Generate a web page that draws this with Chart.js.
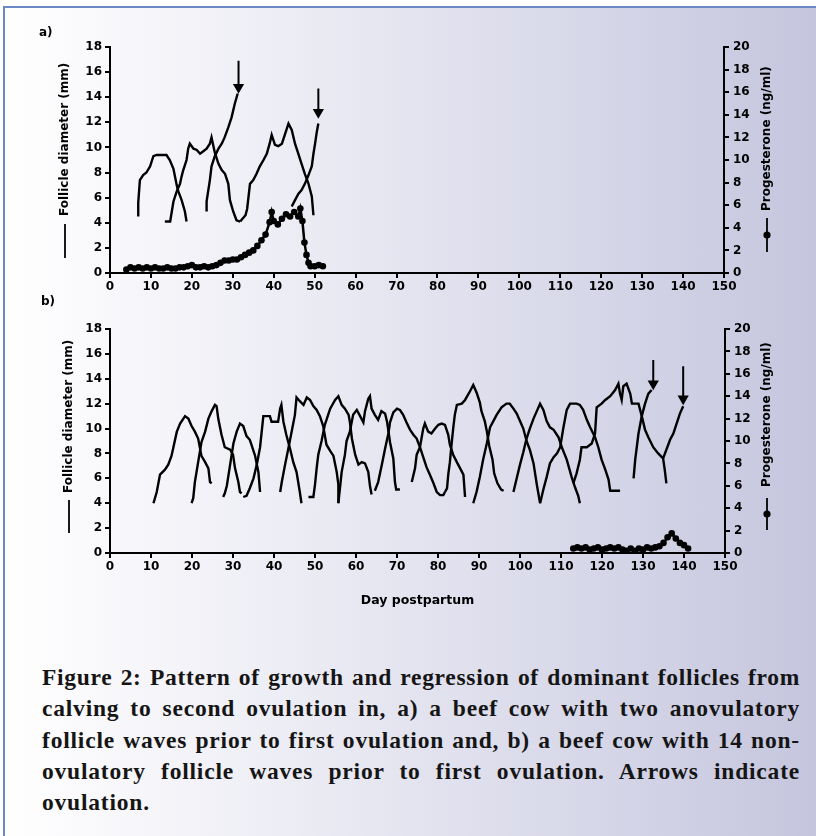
<!DOCTYPE html>
<html>
<head>
<meta charset="utf-8">
<script src="https://cdn.jsdelivr.net/npm/chart.js@4.4.1/dist/chart.umd.min.js"></script>
<style>
html,body{margin:0;padding:0;width:816px;height:836px;overflow:hidden;background:#fff;}
#frame{position:absolute;left:3px;top:6px;width:813px;height:830px;box-sizing:border-box;
  border-left:2px solid #6b87c6;border-top:2px solid #6b87c6;
  background:linear-gradient(to right,#ffffff 0%,#e7e7f2 45%,#c5c6de 100%);}
canvas{position:absolute;left:0;}
#ca{top:0;}
#cb{top:300px;}
.pl{position:absolute;font:bold 12px "DejaVu Sans";color:#000;}
#cap{position:absolute;left:42px;top:662px;width:758px;font:bold 23.5px "Liberation Serif";color:#151515;}
#cap div{height:31.3px;line-height:31.3px;text-align:justify;text-align-last:justify;white-space:nowrap;}
#cap div.last{text-align:left;text-align-last:left;}
</style>
</head>
<body>
<div id="frame"></div>
<canvas id="ca" width="816" height="300"></canvas>
<canvas id="cb" width="816" height="320"></canvas>
<div class="pl" style="left:39px;top:25px;">a)</div>
<div class="pl" style="left:41px;top:294px;">b)</div>
<div id="cap">
<div>Figure 2: Pattern of growth and regression of dominant follicles from</div>
<div>calving to second ovulation in, a) a beef cow with two anovulatory</div>
<div>follicle waves prior to first ovulation and, b) a beef cow with 14 non-</div>
<div>ovulatory follicle waves prior to first ovulation. Arrows indicate</div>
<div class="last">ovulation.</div>
</div>
<script>
// ---------- axis ticks ----------
const dayTicks = [0,10,20,30,40,50,60,70,80,90,100,110,120,130,140,150];
const follicleTicks = [0,2,4,6,8,10,12,14,16,18];
const progTicks = [0,2,4,6,8,10,12,14,16,18,20];

// ---------- panel a: follicle waves [day, diameter mm] ----------
const waveA1 = [[6.9,4.5],[6.9,5.6],[7.3,7.4],[8.1,7.8],[8.9,8.0],[9.8,8.5],[10.6,9.3],[11.4,9.4],[12.6,9.4],[13.8,9.4],[14.6,9.0],[15.5,8.3],[16.3,7.0],[16.7,6.5],[17.5,5.8],[18.3,4.9],[18.7,4.1]];
const waveA2 = [[13.4,4.1],[14.7,4.1],[15.1,4.9],[15.5,5.7],[16.3,6.5],[17.1,7.1],[17.5,7.7],[17.9,8.2],[18.7,9.0],[19.1,9.9],[19.5,10.3],[20.4,9.9],[21.2,9.8],[22,9.5],[22.8,9.7],[23.6,9.9],[24.4,10.3],[24.8,10.8],[25.6,9.6],[26.5,8.7],[27.3,8.2],[28.1,7.9],[28.9,7.1],[29.3,5.8],[30.1,4.9],[30.9,4.2],[31.8,4.1]];
const waveA3 = [[23.6,4.9],[23.6,5.7],[24.4,7.4],[24.8,8.5],[25.6,9.3],[26.5,9.9],[27.3,10.3],[28,10.8],[28.9,11.6],[29.7,12.4],[30.5,13.5],[31.2,14.3]];
const waveA4 = [[31.8,4.1],[33.1,4.6],[33.5,5.1],[34.2,7.1],[35,7.4],[35.8,7.9],[36.6,8.5],[37.5,9.0],[38.3,9.5],[39,10.3],[39.5,11.0],[40.3,10.2],[41.1,10.1],[42,10.3],[42.8,11.1],[43.6,11.9],[44.4,11.4],[45.2,10.3],[46,9.5],[46.8,8.7],[47.6,7.9],[48.5,7.1],[49.3,6.1],[49.7,4.6]];
const waveA5 = [[44.4,5.3],[45.2,5.8],[46,6.3],[46.8,6.6],[47.6,7.1],[48.5,7.8],[49.3,8.5],[49.7,9.5],[50.1,10.3],[50.5,11.2],[50.9,11.9]];
// ovulation arrows [day, top, tip]
const arrowsA = [[31.4,16.9,14.8],[50.9,14.7,12.8]];
// progesterone [day, ng/ml]
const progA = [[4,0.3],[5,0.5],[6,0.4],[7,0.5],[8,0.4],[9,0.5],[10,0.4],[11,0.5],[12,0.4],[13,0.4],[14,0.5],[15,0.4],[16,0.4],[17,0.5],[18,0.5],[19,0.6],[20,0.7],[21,0.5],[22,0.5],[23,0.6],[24,0.5],[25,0.6],[26,0.7],[27,0.9],[28,1.1],[29,1.1],[30,1.2],[31,1.2],[32,1.4],[33,1.6],[34,1.8],[35,2.0],[36,2.4],[37,2.9],[38,3.4],[39,4.5],[39.5,5.4],[40,4.6],[41,4.3],[42,4.8],[43,5.2],[44,5.0],[45,5.4],[46,5.0],[46.5,5.7],[47,4.6],[47.5,2.7],[48,1.6],[48.5,0.9],[49,0.6],[50,0.6],[51,0.7],[52,0.6]];

// ---------- panel b: follicle waves ----------
const waveB1 = [[10.6,4.0],[11.4,4.9],[12.2,6.3],[13.4,6.7],[14.2,7.1],[15,7.8],[16.3,9.75],[17.1,10.4],[18.3,11.0],[19.1,10.8],[19.9,10.2],[20.7,9.75],[21.5,9.2],[22.3,7.8],[23.2,7.3],[24,6.8],[24.4,5.7],[24.8,5.6]];
const waveB2 = [[19.9,4.0],[20.3,4.4],[20.7,5.7],[21.5,7.3],[22.3,8.9],[23.2,9.75],[24,10.8],[24.8,11.4],[25.6,11.9],[26,11.8],[26.4,10.8],[27.2,9.5],[28,8.5],[29.3,8.3],[30,7.9],[30.5,6.8],[31.3,5.7],[31.7,4.9],[32.1,4.8]];
const waveB3 = [[27.6,4.5],[28,4.8],[28.5,5.4],[29.3,7.1],[30.1,8.8],[30.9,9.75],[31.7,10.4],[32.5,10.2],[33.3,9.4],[34.1,9.1],[34.5,8.7],[35.4,7.8],[36.2,6.5],[36.6,4.9]];
const waveB4 = [[32.5,4.5],[33.3,4.6],[34.1,5.2],[35,6.0],[35.8,7.1],[36.6,8.5],[37.4,11.0],[39,11.0],[39.4,10.55],[41,10.55],[41.5,11.6],[41.8,11.9],[42.3,10.55],[43,9.5],[43.9,8.4],[44.7,7.3],[45.5,6.5],[46.3,4.9],[46.7,4.0]];
const waveB5 = [[41.5,4.9],[41.9,5.7],[42.7,7.1],[43.5,8.4],[44.3,9.75],[45.1,11.1],[45.5,12.5],[46.3,12.2],[47.2,11.9],[48,12.5],[48.8,12.3],[49.6,11.8],[50.4,11.5],[51.2,11.0],[52,10.2],[52.8,8.7],[53.7,8.2],[54.5,7.8],[55.3,6.5],[55.7,5.5],[55.7,4.0]];
const waveB6 = [[48.4,4.5],[49.6,4.5],[50,5.5],[50.4,6.8],[50.8,7.9],[51.6,9.0],[52.4,10.3],[53.7,11.6],[54.9,12.3],[55.7,12.6],[56.5,11.9],[57.3,11.6],[58.2,11.1],[58.5,10.55],[59,9.2],[59.8,7.9],[60.6,7.1],[61.4,7.3],[62.2,7.2],[63,6.5],[63.4,5.4],[63.8,4.7]];
const waveB7 = [[55.7,4.0],[56.5,6.5],[57.3,7.9],[57.7,9.0],[58.5,9.75],[59.3,11.1],[60.2,11.5],[61,11.0],[61.8,10.5],[62.2,11.4],[63,12.4],[63.4,12.6],[63.8,11.6],[64.6,11.1],[65.4,10.7],[66.2,11.4],[67.1,11.2],[67.6,10.5],[68.3,8.9],[69.1,7.6],[69.5,5.7],[69.8,5.1],[70.7,5.1]];
const waveB8 = [[64.6,5.0],[65.4,5.7],[66.3,7.1],[67.1,8.4],[67.9,9.6],[68.3,10.5],[69.1,11.3],[70,11.6],[70.7,11.5],[71.5,11.1],[72.3,10.5],[73.2,9.9],[74,9.5],[74.8,9.2],[75.6,8.5],[76.4,7.7],[77.2,6.9],[78,6.3],[78.9,5.6],[79.7,4.9],[80.5,4.65],[81.3,4.65],[81.7,4.9]];
const waveB9 = [[73.6,5.7],[74.4,6.8],[74.8,7.9],[75.6,8.5],[76.4,10.0],[76.8,10.4],[77.6,9.75],[78.4,9.6],[79.3,10.0],[80.1,10.3],[80.9,10.4],[81.7,10.3],[82.5,9.5],[82.9,8.7],[83.7,7.9],[84.6,7.3],[85.4,6.8],[86.2,6.3],[86.6,4.5]];
const waveB10 = [[81.7,4.9],[82.2,5.2],[82.5,6.3],[82.9,7.3],[83.3,8.7],[83.7,10.0],[84.1,11.1],[84.6,11.9],[85.8,12.0],[86.6,12.3],[87.8,13.0],[88.6,13.5],[89.4,12.9],[90.2,12.1],[90.6,11.4],[91.4,10.6],[91.9,9.8],[92.5,8.6],[93.3,7.5],[93.7,6.4],[94.5,5.6],[95.4,5.1],[96,5.0]];
const waveB11 = [[88.6,4.0],[89.4,4.9],[90.2,6.1],[91,7.5],[91.9,8.8],[92.7,10.1],[93.5,10.6],[94.3,11.1],[95.5,11.7],[96.7,12.0],[97.5,12.0],[98.4,11.6],[99.2,11.2],[100,10.6],[100.8,10.0],[101.6,9.0],[102.4,8.3],[103.3,7.2],[104.1,5.5],[104.9,4.0]];
const waveB12 = [[98.4,4.9],[99.2,6.0],[100,7.1],[100.8,8.1],[101.6,9.2],[102.4,10.0],[103.3,10.8],[104.1,11.4],[104.9,12.0],[105.7,11.5],[106.5,10.6],[107.3,10.1],[108.2,9.9],[109.4,9.3],[110.2,8.5],[111.4,7.5],[112.6,6.1],[113.4,5.3],[114.2,4.6],[114.6,4.0]];
const waveB13 = [[104.9,4.0],[105.7,5.1],[106.5,6.1],[107.3,7.2],[108.2,7.7],[109,8.0],[109.8,8.5],[110.6,10.1],[111.4,11.5],[112.2,12.0],[113.8,12.0],[114.6,11.9],[115.4,11.5],[116.3,10.7],[117.1,10.1],[118.3,9.3],[119.1,8.5],[119.9,7.5],[120.8,6.7],[121.6,5.9],[122,5.0],[124.4,5.0]];
const waveB14 = [[113,5.6],[113.8,6.4],[114.6,7.5],[115,8.5],[116.3,8.5],[117.5,8.8],[118.3,9.6],[118.7,11.7],[119.9,12.0],[120.8,12.3],[122,12.6],[123.2,13.1],[124,13.6],[124.4,12.8],[124.8,12.3],[125.2,13.4],[126,13.6],[126.9,12.8],[127.3,12.0],[128.9,12.0],[129.7,11.0],[130.5,9.9],[131.3,9.3],[132.5,8.5],[133.7,8.0],[134.9,7.6],[135.3,6.7],[135.7,5.6]];
const waveB15 = [[127.7,6.0],[128.1,7.5],[128.9,9.6],[129.7,11.0],[130.5,12.0],[131.3,12.8],[132.1,13.1]];
const waveB16 = [[134.9,7.6],[135.7,8.3],[136.6,9.1],[137.4,9.6],[138.2,10.4],[139,11.2],[139.8,11.8]];
const arrowsB = [[132.5,15.5,13.6],[139.8,15.0,12.4]];
const progB = [[113,0.4],[114,0.5],[115,0.4],[116,0.5],[117,0.3],[118,0.4],[119,0.5],[120,0.3],[121,0.4],[122,0.5],[123,0.4],[124,0.5],[125,0.3],[126,0.2],[127,0.4],[128,0.2],[129,0.4],[130,0.3],[131,0.5],[132,0.4],[133,0.5],[134,0.6],[135,0.9],[136,1.4],[137,1.75],[138,1.3],[139,0.9],[140,0.7],[141,0.4]];

// ---------- caption fitting: letter-spacing per line so each line fits the justified width ----------
(function fitCaption(){
  const W = 758;
  document.querySelectorAll('#cap div').forEach(div => {
    const last = div.classList.contains('last');
    const probe = document.createElement('span');
    probe.textContent = div.textContent;
    div.textContent = '';
    div.style.textAlign = 'left';
    div.style.textAlignLast = 'left';
    div.appendChild(probe);
    let ls = 0.8;
    div.style.letterSpacing = ls + 'px';
    while (!last && probe.getBoundingClientRect().width > W - 14 && ls > -0.8) {
      ls -= 0.1; div.style.letterSpacing = ls + 'px';
    }
    div.textContent = probe.textContent;
    div.style.textAlign = '';
    div.style.textAlignLast = '';
  });
})();

// ---------- helpers ----------
const BLACK = '#000';
const tickFont = {family:'"DejaVu Sans"', weight:'bold', size:12};
const pts = arr => arr.map(([x,y]) => ({x, y}));
const waveDs = arr => ({data: pts(arr), borderColor: BLACK, borderWidth: 2.4, pointRadius: 0, tension: 0, yAxisID: 'y'});
const arrowDs = ([d, top, tip]) => ({data: [{x:d, y:top}, {x:d, y:tip}], borderColor: BLACK, backgroundColor: BLACK,
  borderWidth: 2, pointRadius: [0, 4.5], pointStyle: 'triangle', rotation: 180, yAxisID: 'y'});
const progDs = arr => ({data: pts(arr), borderColor: BLACK, backgroundColor: BLACK, borderWidth: 2.5,
  pointRadius: 3.3, pointBorderWidth: 0, pointBackgroundColor: BLACK, tension: 0, yAxisID: 'y2'});

const vTitles = {
  id: 'vTitles',
  afterDraw(chart, args, opts) {
    const ctx = chart.ctx;
    (opts.items || []).forEach(it => {
      ctx.save();
      ctx.translate(it.x, it.yBottom);
      ctx.rotate(-Math.PI / 2);
      ctx.strokeStyle = BLACK; ctx.fillStyle = BLACK; ctx.lineWidth = 1.8;
      ctx.beginPath(); ctx.moveTo(0, 0); ctx.lineTo(it.markLen, 0); ctx.stroke();
      if (it.dot) { ctx.beginPath(); ctx.arc(it.markLen / 2, 0, 3.6, 0, Math.PI * 2); ctx.fill(); }
      ctx.font = 'bold 12px "DejaVu Sans"';
      ctx.textBaseline = 'middle'; ctx.textAlign = 'left';
      ctx.fillText(it.text, it.markLen + it.gap, 0);
      ctx.restore();
    });
  }
};

function makeScales(xHeight, rightWidth, xTitle) {
  const grid = {drawOnChartArea: false, drawTicks: true, tickLength: 5, color: BLACK, lineWidth: 2};
  const border = {display: true, color: BLACK, width: 2};
  return {
    x: {type: 'linear', min: 0, max: 150, grid, border,
        afterBuildTicks: s => { s.ticks = dayTicks.map(v => ({value: v})); },
        ticks: {color: BLACK, font: tickFont, padding: 2, maxRotation: 0, autoSkip: false},
        title: xTitle ? {display: true, text: xTitle, color: BLACK, font: {family:'"DejaVu Sans"', weight:'bold', size:12.5}, padding: {top: 0, bottom: 12}} : {display: false},
        afterFit: s => { s.height = xHeight; }},
    y: {position: 'left', min: 0, max: 18, grid, border,
        afterBuildTicks: s => { s.ticks = follicleTicks.map(v => ({value: v})); },
        ticks: {color: BLACK, font: tickFont, padding: 3},
        afterFit: s => { s.width = 110; }},
    y2: {position: 'right', min: 0, max: 20, grid, border,
        afterBuildTicks: s => { s.ticks = progTicks.map(v => ({value: v})); },
        ticks: {color: BLACK, font: tickFont, padding: 4},
        afterFit: s => { s.width = rightWidth; }}
  };
}

function makeChart(id, datasets, padTop, xHeight, rightWidth, xTitle, titles) {
  return new Chart(document.getElementById(id), {
    type: 'line',
    data: {datasets},
    options: {
      responsive: false, animation: false, devicePixelRatio: 1,
      layout: {padding: {top: padTop, left: 0, right: 0, bottom: 0}},
      plugins: {legend: {display: false}, tooltip: {enabled: false}, vTitles: {items: titles}},
      scales: makeScales(xHeight, rightWidth, xTitle)
    },
    plugins: [vTitles]
  });
}

makeChart('ca',
  [waveA1, waveA2, waveA3, waveA4, waveA5].map(waveDs)
    .concat(arrowsA.map(arrowDs))
    .concat([progDs(progA)]),
  47, 27, 92, null,
  [{x: 65, yBottom: 258, markLen: 34, gap: 8, text: 'Follicle diameter (mm)'},
   {x: 767, yBottom: 252, markLen: 34, gap: 7, dot: true, text: 'Progesterone (ng/ml)'}]);

makeChart('cb',
  [waveB1, waveB2, waveB3, waveB4, waveB5, waveB6, waveB7, waveB8, waveB9, waveB10, waveB11, waveB12, waveB13, waveB14, waveB15, waveB16].map(waveDs)
    .concat(arrowsB.map(arrowDs))
    .concat([progDs(progB)]),
  29, 67, 91, 'Day postpartum',
  [{x: 69, yBottom: 233, markLen: 33, gap: 7, text: 'Follicle diameter (mm)'},
   {x: 767, yBottom: 230, markLen: 32, gap: 11, dot: true, text: 'Progesterone (ng/ml)'}]);
</script>
</body>
</html>
